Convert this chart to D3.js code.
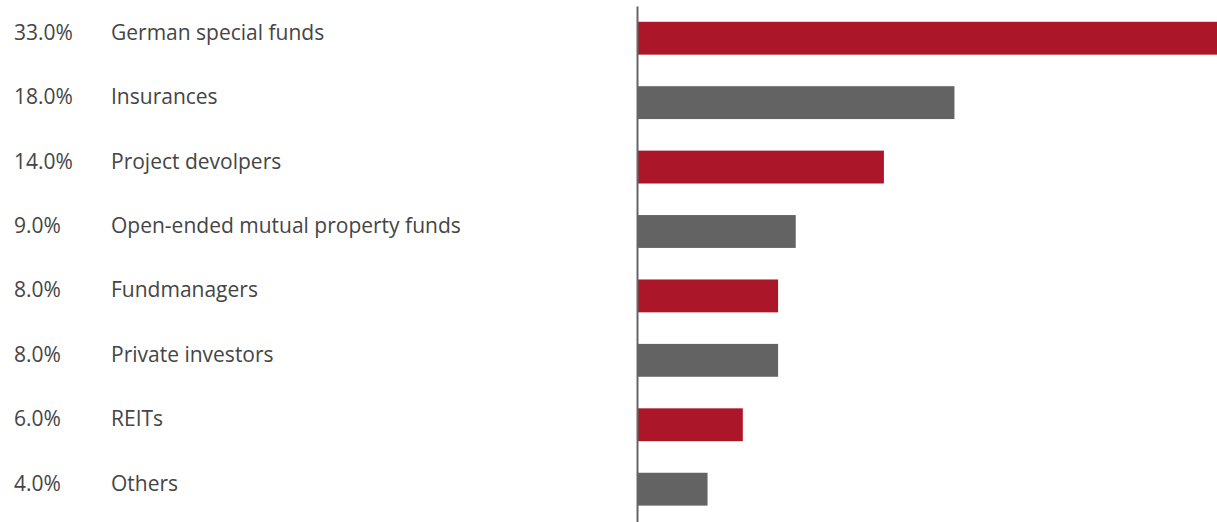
<!DOCTYPE html>
<html>
<head>
<meta charset="utf-8">
<script src="https://cdn.jsdelivr.net/npm/d3@7"></script>
<style>
  html, body { margin: 0; padding: 0; background: #fff; }
  svg { display: block; }
  text { font-family: "Open Sans", "Noto Sans", sans-serif; }
</style>
</head>
<body>
<svg id="chart" width="1217" height="522"></svg>
<script>
// Investor groups and their share of transaction volume (%)
const categories = [
  "German special funds",
  "Insurances",
  "Project devolpers",
  "Open-ended mutual property funds",
  "Fundmanagers",
  "Private investors",
  "REITs",
  "Others"
];
const shares = [33.0, 18.0, 14.0, 9.0, 8.0, 8.0, 6.0, 4.0];
const palette = ["#ab1628", "#636363"];

const rows = categories.map((name, i) => ({ name, value: shares[i], i }));

const svg = d3.select("#chart");

const x = d3.scaleLinear().domain([0, 33]).range([637, 1219]);
const y = d3.scaleBand()
  .domain(rows.map(d => d.name))
  .range([6, 521.4])
  .paddingInner(0.49)
  .paddingOuter(0.245);

// bars, alternating red / grey
svg.append("g")
  .selectAll("rect")
  .data(rows)
  .join("rect")
  .attr("x", x(0))
  .attr("y", d => y(d.name))
  .attr("width", d => x(d.value) - x(0))
  .attr("height", y.bandwidth())
  .attr("fill", d => palette[d.i % 2]);

// vertical baseline
const axis = svg.append("g")
  .attr("transform", `translate(${x(0)},0)`)
  .call(d3.axisLeft(y).tickSize(0).tickFormat(""));
axis.select(".domain").attr("stroke", "#666").attr("stroke-width", 2);

// value and category labels
const labels = svg.append("g")
  .attr("fill", "#454545")
  .attr("font-size", 21);

labels.selectAll("text.val")
  .data(rows)
  .join("text")
  .attr("class", "val")
  .attr("x", 14)
  .attr("y", d => y(d.name) + y.bandwidth() / 2 + 1.5)
  .text(d => d.value.toFixed(1) + "%");

labels.selectAll("text.cat")
  .data(rows)
  .join("text")
  .attr("class", "cat")
  .attr("x", 111)
  .attr("y", d => y(d.name) + y.bandwidth() / 2 + 1.5)
  .text(d => d.name);
</script>
</body>
</html>
